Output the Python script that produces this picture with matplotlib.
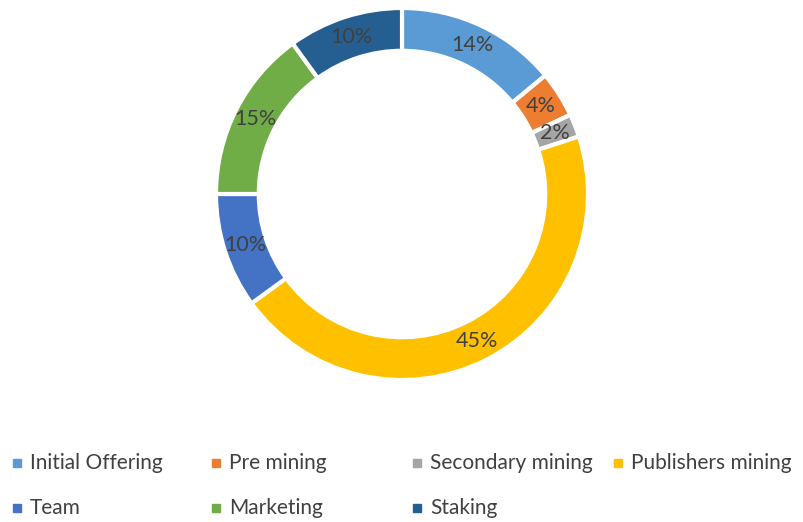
import matplotlib
matplotlib.use("Agg")
import matplotlib.pyplot as plt
from matplotlib.patches import Rectangle

labels = ["Initial Offering", "Pre mining", "Secondary mining", "Publishers mining",
          "Team", "Marketing", "Staking"]
shares = [14, 4, 2, 45, 10, 15, 10]
colors = ["#5B9BD5", "#ED7D31", "#A5A5A5", "#FFC000", "#4472C4", "#70AD47", "#255E91"]

plt.rcParams['font.family'] = ['Lato', 'DejaVu Sans']
W, H = 804, 522
fig = plt.figure(figsize=(W / 100, H / 100), dpi=100)

# donut: centre (402,194) px, outer radius 186 px
cx, cy, r = 402, 194, 186
ax = fig.add_axes([(cx - r) / W, (H - cy - r) / H, 2 * r / W, 2 * r / H])
wedges, texts = ax.pie(shares, colors=colors, startangle=90, counterclock=False,
                       radius=1, wedgeprops=dict(width=0.23, edgecolor="white", linewidth=3),
                       labels=[f"{s}%" for s in shares], labeldistance=0.885,
                       textprops=dict(color="#404040", fontsize=15.5))
for t in texts:
    t.set_ha("center")
    t.set_va("center")
ax.set_xlim(-1, 1)
ax.set_ylim(-1, 1)
ax.set_aspect("equal")
ax.axis("off")

# legend, Excel style, row-major
col_x = [17, 216, 417, 618]
row_y = [463, 508]
for i, (lab, col) in enumerate(zip(labels, colors)):
    x = col_x[i % 4]
    y = row_y[i // 4]
    fig.patches.append(Rectangle(((x - 4) / W, (H - y - 4) / H), 8 / W, 8 / H,
                                 transform=fig.transFigure, color=col))
    fig.text((x + 13) / W, (H - y) / H, lab, fontsize=15, color="#404040",
             ha="left", va="center")

fig.savefig("out.png", dpi=100)
